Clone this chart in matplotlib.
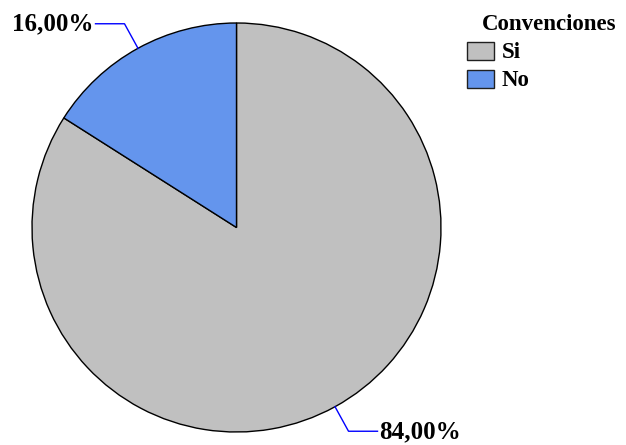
import numpy as np
import matplotlib
matplotlib.use("Agg")
import matplotlib.pyplot as plt
from matplotlib.patches import Rectangle

categories = ["Si", "No"]
values = [84.0, 16.0]
colors = ["#C0C0C0", "#6495ED"]
legend_title = "Convenciones"

W, H = 626, 445
fig = plt.figure(figsize=(W / 100, H / 100), dpi=100)
ax = fig.add_axes([0, 0, 1, 1])
ax.set_xlim(0, W)
ax.set_ylim(0, H)
ax.set_aspect("equal")
ax.axis("off")

cx, cy, r = 236.5, H - 227.5, 204.5
wedges, _ = ax.pie(values, colors=colors, startangle=90, counterclock=False,
                   center=(cx, cy), radius=r,
                   wedgeprops=dict(edgecolor="black", linewidth=1.0))
ax.set_xlim(0, W)
ax.set_ylim(0, H)

label_font = dict(family="Liberation Serif", weight="bold", size=18)
legend_font = dict(family="Liberation Serif", weight="bold", size=16.5)

# leader lines and percentage labels
total = sum(values)
for w, v in zip(wedges, values):
    mid = np.deg2rad((w.theta1 + w.theta2) / 2)
    x0, y0 = cx + r * np.cos(mid), cy + r * np.sin(mid)
    x1, y1 = cx + (r + 28) * np.cos(mid), cy + (r + 28) * np.sin(mid)
    side = 1 if np.cos(mid) > 0 else -1
    x2 = x1 + side * 29
    ax.plot([x0, x1, x2], [y0, y1, y1], color="#0000FF", lw=1.0)
    label = f"{v / total * 100:.2f}%".replace(".", ",")
    ax.text(x2 + side * 2, y1 - 7, label, ha="left" if side > 0 else "right",
            va="baseline", color="black", **label_font)

# legend
ax.text(482, H - 30, legend_title, ha="left", va="baseline", **legend_font)
for i, (cat, col) in enumerate(zip(categories, colors)):
    top = 42 + i * 28
    ax.add_patch(Rectangle((467, H - top - 18), 27, 18, facecolor=col,
                           edgecolor="#202020", lw=1.0))
    ax.text(502, H - (58 + i * 28), cat, ha="left", va="baseline", **legend_font)

fig.savefig("out.png", dpi=100)
